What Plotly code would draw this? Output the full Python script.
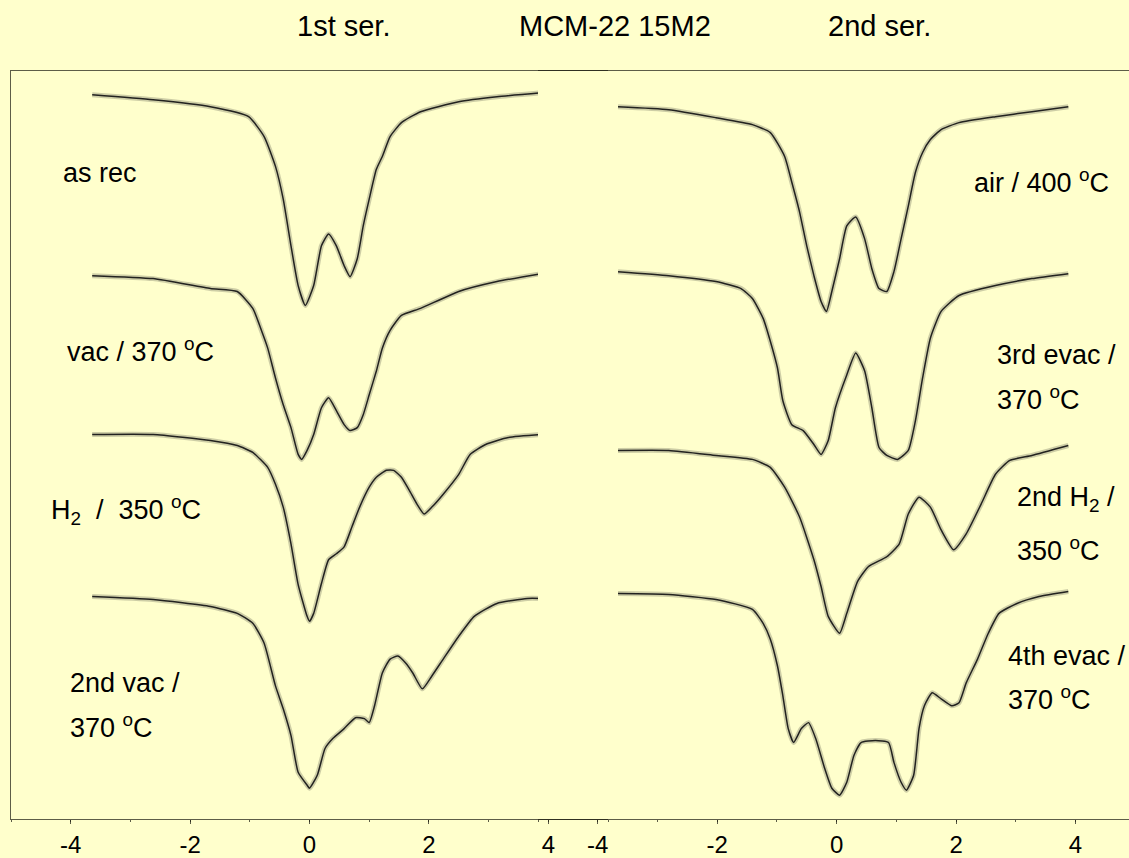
import plotly.graph_objects as go

# Mössbauer spectra of MCM-22 15M2, velocity in mm/s.
# Transmission is in arbitrary units with the spectra stacked vertically.

# ---- 1st series ----
v_as_rec = [-3.64, -2.62, -1.66, -1.02, -0.76, -0.57, -0.44, -0.31, -0.19, -0.07, 0.07, 0.20, 0.32,
            0.45, 0.58, 0.68, 0.80, 0.90, 1.00, 1.12, 1.22, 1.35, 1.54, 1.86, 2.50, 3.14, 3.88]
t_as_rec = [729, 724, 717, 707, 687, 657, 624, 577, 537, 517, 537, 577, 589,
            577, 557, 546, 564, 597, 624, 654, 667, 687, 701, 712, 722, 727, 731]

v_vac = [-3.64, -2.62, -1.66, -1.21, -0.95, -0.80, -0.70, -0.57, -0.44, -0.31, -0.19, -0.13, -0.04, 0.07,
         0.20, 0.32, 0.45, 0.58, 0.68, 0.80, 0.90, 1.00, 1.12, 1.22, 1.35, 1.54, 1.86, 2.50, 3.14, 3.88]
t_vac = [547, 544, 534, 531, 514, 491, 474, 444, 417, 394, 367, 362, 371, 387,
         414, 424, 411, 397, 391, 394, 407, 427, 451, 474, 492, 507, 514, 531, 541, 549]

v_h2 = [-3.64, -2.62, -1.66, -1.21, -0.95, -0.70, -0.57, -0.44, -0.31, -0.19, -0.04, 0.00, 0.07, 0.20,
        0.32, 0.45, 0.58, 0.71, 0.84, 1.00, 1.12, 1.29, 1.41, 1.54, 1.67, 1.80, 1.92, 2.05, 2.24, 2.50,
        2.69, 2.95, 3.33, 3.88]
t_h2 = [387, 387, 381, 376, 369, 354, 337, 314, 277, 236, 204, 199, 207, 237,
        261, 267, 274, 294, 314, 334, 344, 351, 351, 344, 331, 317, 307, 314, 327, 347,
        367, 377, 384, 387]

v_vac2 = [-3.64, -2.62, -1.66, -1.21, -0.95, -0.76, -0.57, -0.44, -0.31, -0.19, -0.04, 0.00, 0.13, 0.26,
          0.39, 0.58, 0.77, 0.92, 1.00, 1.09, 1.22, 1.35, 1.48, 1.61, 1.73, 1.89, 2.05, 2.24, 2.50, 2.76,
          3.14, 3.65, 3.88]
t_vac2 = [224, 221, 214, 207, 197, 177, 134, 111, 84, 47, 34, 31, 44, 71,
          81, 91, 102, 101, 97, 114, 147, 161, 164, 157, 147, 131, 144, 161, 184, 204,
          217, 222, 222]

# ---- 2nd series ----
v_air = [-3.66, -2.81, -2.02, -1.41, -1.11, -0.87, -0.75, -0.62, -0.50, -0.38, -0.26, -0.17, -0.08, 0.05,
         0.17, 0.32, 0.47, 0.59, 0.71, 0.84, 0.96, 1.08, 1.20, 1.32, 1.44, 1.57, 1.75, 2.05, 2.66,
         3.27, 3.88]
t_air = [717, 714, 706, 699, 691, 667, 641, 611, 577, 547, 521, 511, 531, 564,
         597, 606, 584, 554, 534, 531, 551, 584, 617, 651, 671, 684, 694, 701, 707,
         712, 717]

v_evac3 = [-3.66, -2.81, -2.02, -1.60, -1.41, -1.23, -1.11, -0.99, -0.90, -0.75, -0.56, -0.38, -0.26, -0.14,
           -0.02, 0.17, 0.32, 0.47, 0.59, 0.71, 0.84, 1.02, 1.20, 1.32, 1.44, 1.57, 1.75, 2.05, 2.66,
           3.27, 3.88]
t_evac3 = [551, 547, 541, 534, 524, 504, 481, 454, 421, 397, 391, 377, 367, 381,
           414, 447, 469, 451, 414, 374, 366, 362, 371, 401, 444, 484, 511, 527, 537,
           544, 549]

v_h2b = [-3.66, -2.81, -2.02, -1.41, -1.11, -0.87, -0.62, -0.38, -0.26, -0.14, 0.05, 0.17, 0.35, 0.53,
         0.84, 1.05, 1.20, 1.38, 1.57, 1.75, 1.96, 2.17, 2.42, 2.66, 2.90, 3.27, 3.88]
t_h2b = [371, 371, 366, 362, 354, 334, 304, 261, 234, 204, 187, 207, 239, 254,
         264, 277, 307, 324, 314, 291, 271, 287, 317, 347, 361, 366, 376]

v_evac4 = [-3.66, -2.81, -2.02, -1.41, -1.23, -1.11, -0.99, -0.90, -0.81, -0.72, -0.59, -0.47, -0.35, -0.20,
           -0.08, 0.05, 0.17, 0.29, 0.41, 0.65, 0.87, 0.96, 1.08, 1.17, 1.29, 1.38, 1.47, 1.60, 1.75,
           1.93, 2.05, 2.17, 2.36, 2.54, 2.72, 3.02, 3.39, 3.88]
t_evac4 = [227, 226, 221, 211, 197, 181, 154, 124, 91, 77, 91, 97, 81, 51,
           31, 24, 37, 64, 77, 79, 77, 57, 37, 29, 44, 91, 114, 127, 121,
           114, 117, 137, 161, 187, 207, 217, 224, 229]

tick_vals = [-4, -2, 0, 2, 4]
tick_text = ["-4", "-2", "0", "2", "4"]

BG = "#FFFFCC"
AXIS = "rgba(30,30,20,0.72)"
HALO = "rgba(30,30,30,0.22)"   # soft band standing in for counting scatter
TRACE = "rgba(20,20,20,0.92)"
FONT = "Arial, Liberation Sans, sans-serif"

fig = go.Figure()

panel_1 = [(v_as_rec, t_as_rec), (v_vac, t_vac), (v_h2, t_h2), (v_vac2, t_vac2)]
panel_2 = [(v_air, t_air), (v_evac3, t_evac3), (v_h2b, t_h2b), (v_evac4, t_evac4)]

for axes, panel in ((("x", "y"), panel_1), (("x2", "y2"), panel_2)):
    for (vx, ty) in panel:
        for color, width in ((HALO, 5), (TRACE, 1.5)):
            fig.add_trace(go.Scatter(x=vx, y=ty, mode="lines", xaxis=axes[0], yaxis=axes[1],
                                     line=dict(color=color, width=width, shape="spline",
                                               smoothing=0.5),
                                     showlegend=False, hoverinfo="skip"))

W, H = 1129, 858
common_x = dict(range=[-5, 5], showline=True, linecolor=AXIS, linewidth=1, mirror=True,
                ticks="outside", ticklen=4, tickwidth=1, tickcolor=AXIS,
                tickvals=tick_vals, ticktext=tick_text,
                minor=dict(dtick=1, tick0=1, ticks="outside", ticklen=2, tickcolor=AXIS),
                showgrid=False, zeroline=False,
                tickfont=dict(family=FONT, size=24, color="#000000"))

fig.update_layout(
    width=W, height=H, autosize=False,
    margin=dict(l=0, r=0, t=71, b=34, pad=0),
    paper_bgcolor=BG, plot_bgcolor=BG,
    font=dict(family=FONT, color="#000000"),
    xaxis=dict(domain=[11 / W, 608 / W], anchor="y", **common_x),
    xaxis2=dict(domain=[538 / W, 1.0], anchor="y2", **{**common_x, "range": [-5, 4.896]}),
    yaxis=dict(domain=[0, 1], range=[0, 753], anchor="x", showline=True, linecolor=AXIS,
               linewidth=1, showticklabels=False, ticks="", showgrid=False, zeroline=False),
    yaxis2=dict(domain=[0, 1], range=[0, 753], anchor="x2", showline=False,
                showticklabels=False, ticks="", showgrid=False, zeroline=False),
)

# series titles above the panels
titles = [("1st ser.", 295), ("MCM-22 15M2", 517), ("2nd ser.", 826)]
for txt, px in titles:
    fig.add_annotation(text=txt, x=px / W, y=1.0608, xref="paper", yref="paper",
                       xanchor="left", yanchor="middle", showarrow=False,
                       font=dict(family=FONT, size=29, color="#000000"))

# treatment labels next to each spectrum
labels_1 = [("as rec", -4.17, 650),
            ("vac / 370 <sup>o</sup>C", -4.09, 472),
            ("H<sub>2</sub>&nbsp;&nbsp;/&nbsp;&nbsp;350 <sup>o</sup>C", -4.36, 311),
            ("2nd vac /", -4.05, 137),
            ("370 <sup>o</sup>C", -4.05, 94)]
labels_2 = [("air / 400 <sup>o</sup>C", 2.26, 642),
            ("3rd evac /", 2.66, 467),
            ("370 <sup>o</sup>C", 2.66, 424),
            ("2nd H<sub>2</sub> /", 2.99, 322),
            ("350 <sup>o</sup>C", 2.99, 272),
            ("4th evac /", 2.84, 164),
            ("370 <sup>o</sup>C", 2.84, 122)]
for txt, lx, ly in labels_1:
    fig.add_annotation(text=txt, x=lx, y=ly, xref="x", yref="y", xanchor="left",
                       yanchor="middle", showarrow=False,
                       font=dict(family=FONT, size=27, color="#000000"))
for txt, lx, ly in labels_2:
    fig.add_annotation(text=txt, x=lx, y=ly, xref="x2", yref="y2", xanchor="left",
                       yanchor="middle", showarrow=False,
                       font=dict(family=FONT, size=27, color="#000000"))

fig.write_html("out.html")
